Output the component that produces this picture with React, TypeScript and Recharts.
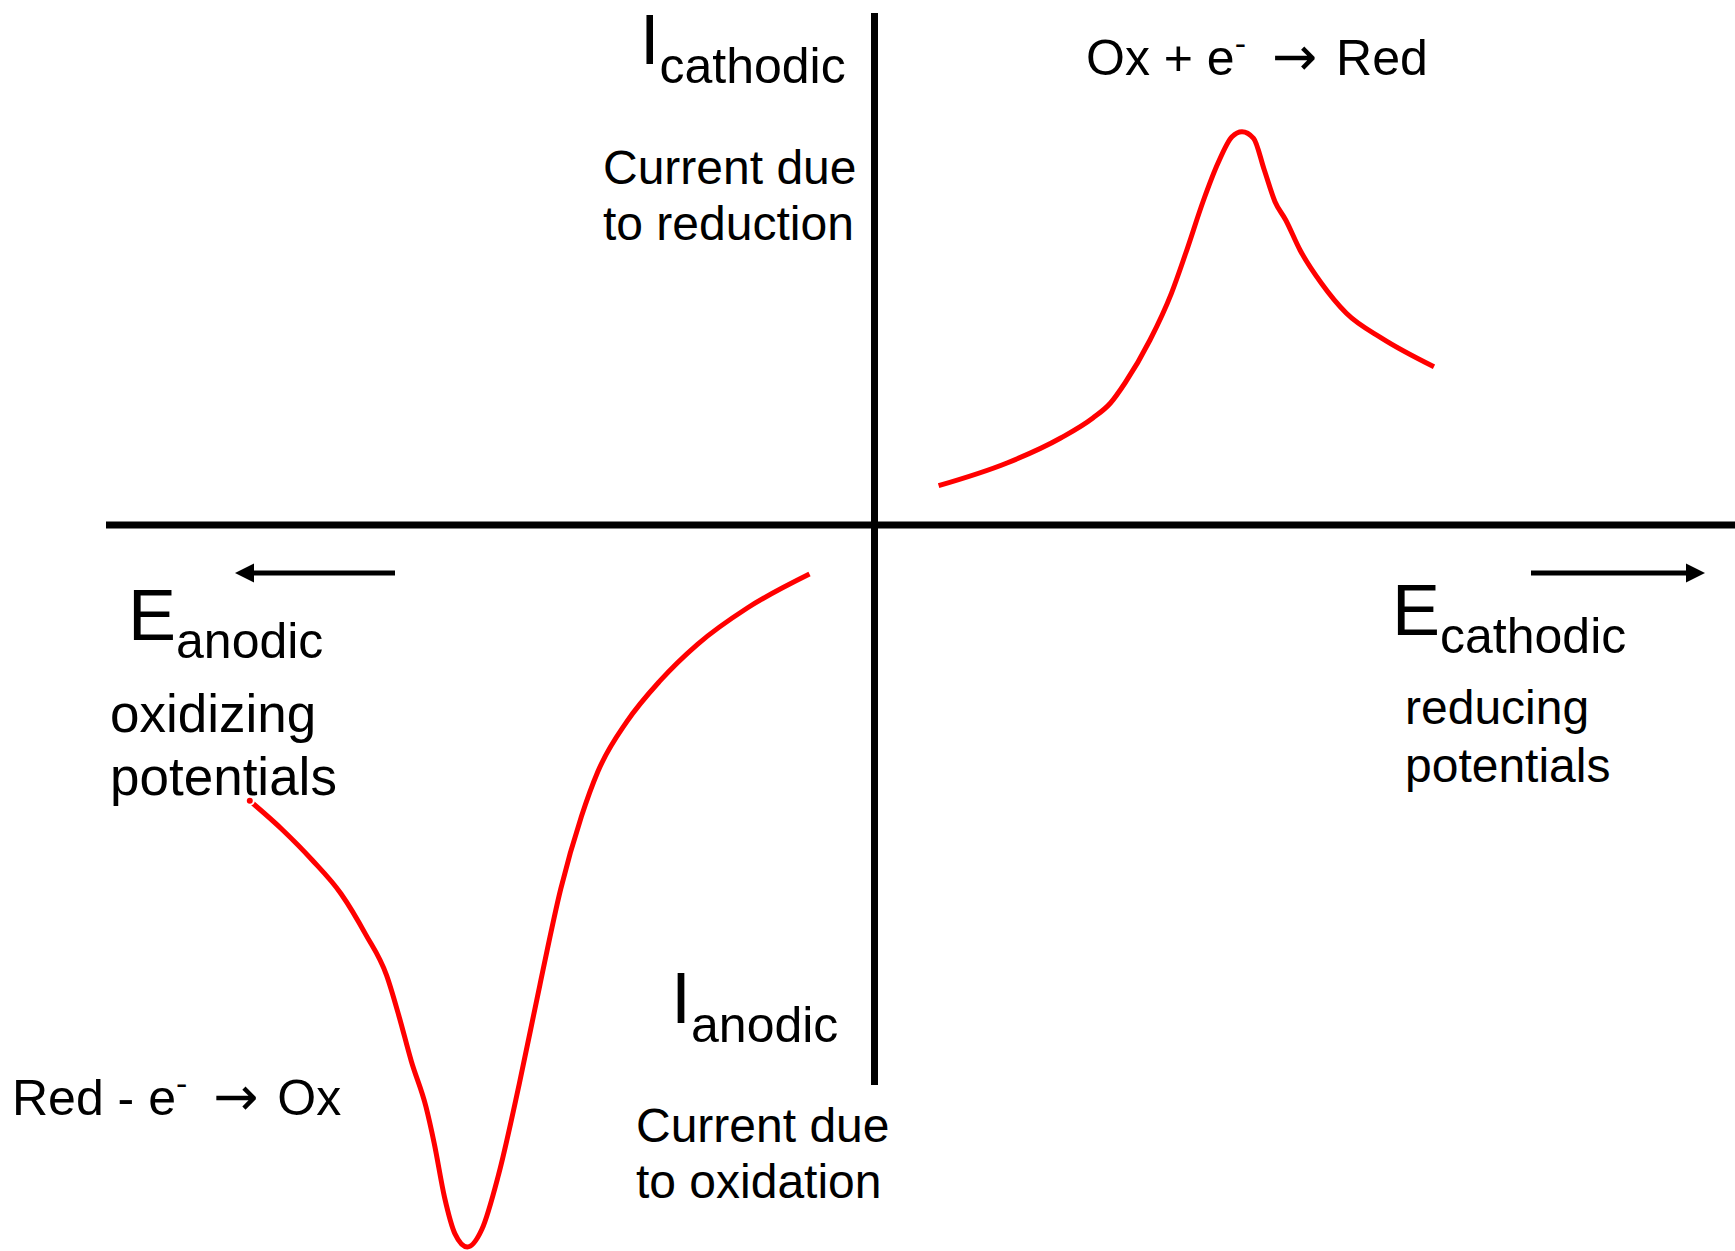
import React from 'react';
import { ComposedChart, Line, XAxis, YAxis, ReferenceLine, ReferenceDot } from 'recharts';

// Potential (E) and current (I) in arbitrary units; cathodic current is positive (up),
// cathodic potential runs to the right.
const reductionE = [0.641, 1.325, 1.862, 2.184, 2.36, 2.505, 2.755, 2.969, 3.112, 3.291, 3.434, 3.575, 3.675, 3.791, 3.898, 4.005, 4.112, 4.255, 4.469, 4.719, 5.075, 5.595];
const reductionI = [0.393, 0.62, 0.87, 1.07, 1.22, 1.42, 1.85, 2.317, 2.717, 3.25, 3.617, 3.883, 3.933, 3.867, 3.55, 3.233, 3.05, 2.75, 2.417, 2.117, 1.867, 1.583];

const oxidationE = [-6.247, -5.916, -5.626, -5.335, -5.087, -4.879, -4.755, -4.631, -4.485, -4.403, -4.299, -4.195, -4.071, -3.926, -3.76, -3.553, -3.345, -3.138, -2.931, -2.765, -2.475, -2.143, -1.77, -1.272, -0.65];
const oxidationI = [-2.758, -3.052, -3.347, -3.687, -4.096, -4.504, -4.912, -5.365, -5.819, -6.182, -6.726, -7.089, -7.22, -7.043, -6.499, -5.592, -4.594, -3.642, -2.916, -2.463, -1.964, -1.556, -1.193, -0.83, -0.49];

const E_DOMAIN: [number, number] = [-8.745, 8.605];
const I_DOMAIN: [number, number] = [-7.26, 5.25];

const reductionData = reductionE.map((e, i) => ({ e, i: reductionI[i] }));
const oxidationData = oxidationE.map((e, i) => ({ e, i: oxidationI[i] }));

const FONT = '"Liberation Sans", Arial, Helvetica, sans-serif';
const ARROW_FONT = '"DejaVu Sans", sans-serif';
const RED = '#ff0000';

// Arrow drawn along a reference segment; the head sits at the segment's second point.
const arrowShape = (props: any) => {
  const { x1, y1, x2, y2 } = props;
  const dir = Math.sign(x2 - x1) || 1;
  const headLen = 19;
  const headHalf = 9.5;
  const baseX = x2 - dir * headLen;
  return (
    <g>
      <line x1={x1} y1={y1} x2={baseX} y2={y2} stroke="#000" strokeWidth={5} />
      <polygon points={`${x2},${y2} ${baseX},${y2 - headHalf} ${baseX},${y2 + headHalf}`} fill="#000" />
    </g>
  );
};

// Axis symbol with a subscript, e.g. I_cathodic
const symbolLabel = (main: string, sub: string, drop: number, mainSize = 72) => (props: any) => (
  <text x={props.cx} y={props.cy} fontFamily={FONT} fill="#000">
    <tspan fontSize={mainSize}>{main}</tspan>
    <tspan fontSize={50} dy={drop}>{sub}</tspan>
  </text>
);

// Two-line caption
const twoLines = (a: string, b: string, size: number, gap: number) => (props: any) => (
  <text x={props.cx} y={props.cy} fontFamily={FONT} fontSize={size} fill="#000">
    <tspan x={props.cx}>{a}</tspan>
    <tspan x={props.cx} dy={gap}>{b}</tspan>
  </text>
);

// Half reaction with a superscript electron charge
const reaction = (before: string, after: string) => (props: any) => (
  <text x={props.cx} y={props.cy} fontFamily={FONT} fontSize={50} fill="#000">
    <tspan>{before}</tspan>
    <tspan fontSize={34} dy={-20}>-</tspan>
    <tspan dy={20}>{' '}</tspan>
    <tspan fontFamily={ARROW_FONT} fontSize={54} dx={12}>{'\u2192'}</tspan>
    <tspan dx={5}>{' '}{after}</tspan>
  </text>
);

export default function App() {
  return (
    <div style={{ position: 'absolute', left: 0, top: 0, width: 1735, height: 1251, background: '#fff' }}>
      <ComposedChart width={1735} height={1251} margin={{ top: 0, right: 0, bottom: 0, left: 0 }}>
        <XAxis type="number" dataKey="e" domain={E_DOMAIN} allowDataOverflow hide />
        <YAxis type="number" dataKey="i" domain={I_DOMAIN} allowDataOverflow hide />

        {/* axes */}
        <ReferenceLine segment={[{ x: -7.685, y: 0 }, { x: 8.605, y: 0 }]} stroke="#000" strokeWidth={7} ifOverflow="visible" />
        <ReferenceLine segment={[{ x: 0, y: 5.12 }, { x: 0, y: -5.6 }]} stroke="#000" strokeWidth={7} ifOverflow="visible" />

        {/* direction arrows */}
        <ReferenceLine segment={[{ x: -4.795, y: -0.48 }, { x: -6.395, y: -0.48 }]} shape={arrowShape} ifOverflow="visible" />
        <ReferenceLine segment={[{ x: 6.565, y: -0.48 }, { x: 8.305, y: -0.48 }]} shape={arrowShape} ifOverflow="visible" />

        <Line data={reductionData} dataKey="i" type="monotone" stroke={RED} strokeWidth={5} dot={false} isAnimationActive={false} />
        <Line data={oxidationData} dataKey="i" type="monotone" stroke={RED} strokeWidth={5} dot={false} isAnimationActive={false} />

        {/* labels */}
        <ReferenceDot x={-2.345} y={4.61} r={0} ifOverflow="visible" shape={symbolLabel('I', 'cathodic', 19, 70)} />
        <ReferenceDot x={-2.715} y={3.41} r={0} ifOverflow="visible" shape={twoLines('Current due', 'to reduction', 48, 56)} />
        <ReferenceDot x={2.115} y={4.5} r={0} ifOverflow="visible" shape={reaction('Ox + e', 'Red')} />
        <ReferenceDot x={-7.465} y={-1.15} r={0} ifOverflow="visible" shape={symbolLabel('E', 'anodic', 18)} />
        <ReferenceDot x={-7.645} y={-2.07} r={0} ifOverflow="visible" shape={twoLines('oxidizing', 'potentials', 53, 63)} />
        <ReferenceDot x={5.175} y={-1.1} r={0} ifOverflow="visible" shape={symbolLabel('E', 'cathodic', 18)} />
        <ReferenceDot x={5.305} y={-1.99} r={0} ifOverflow="visible" shape={twoLines('reducing', 'potentials', 48, 58)} />
        <ReferenceDot x={-2.035} y={-4.98} r={0} ifOverflow="visible" shape={symbolLabel('I', 'anodic', 19)} />
        <ReferenceDot x={-2.385} y={-6.17} r={0} ifOverflow="visible" shape={twoLines('Current due', 'to oxidation', 48, 56)} />
        <ReferenceDot x={-8.625} y={-5.9} r={0} ifOverflow="visible" shape={reaction('Red - e', 'Ox')} />
      </ComposedChart>
    </div>
  );
}
